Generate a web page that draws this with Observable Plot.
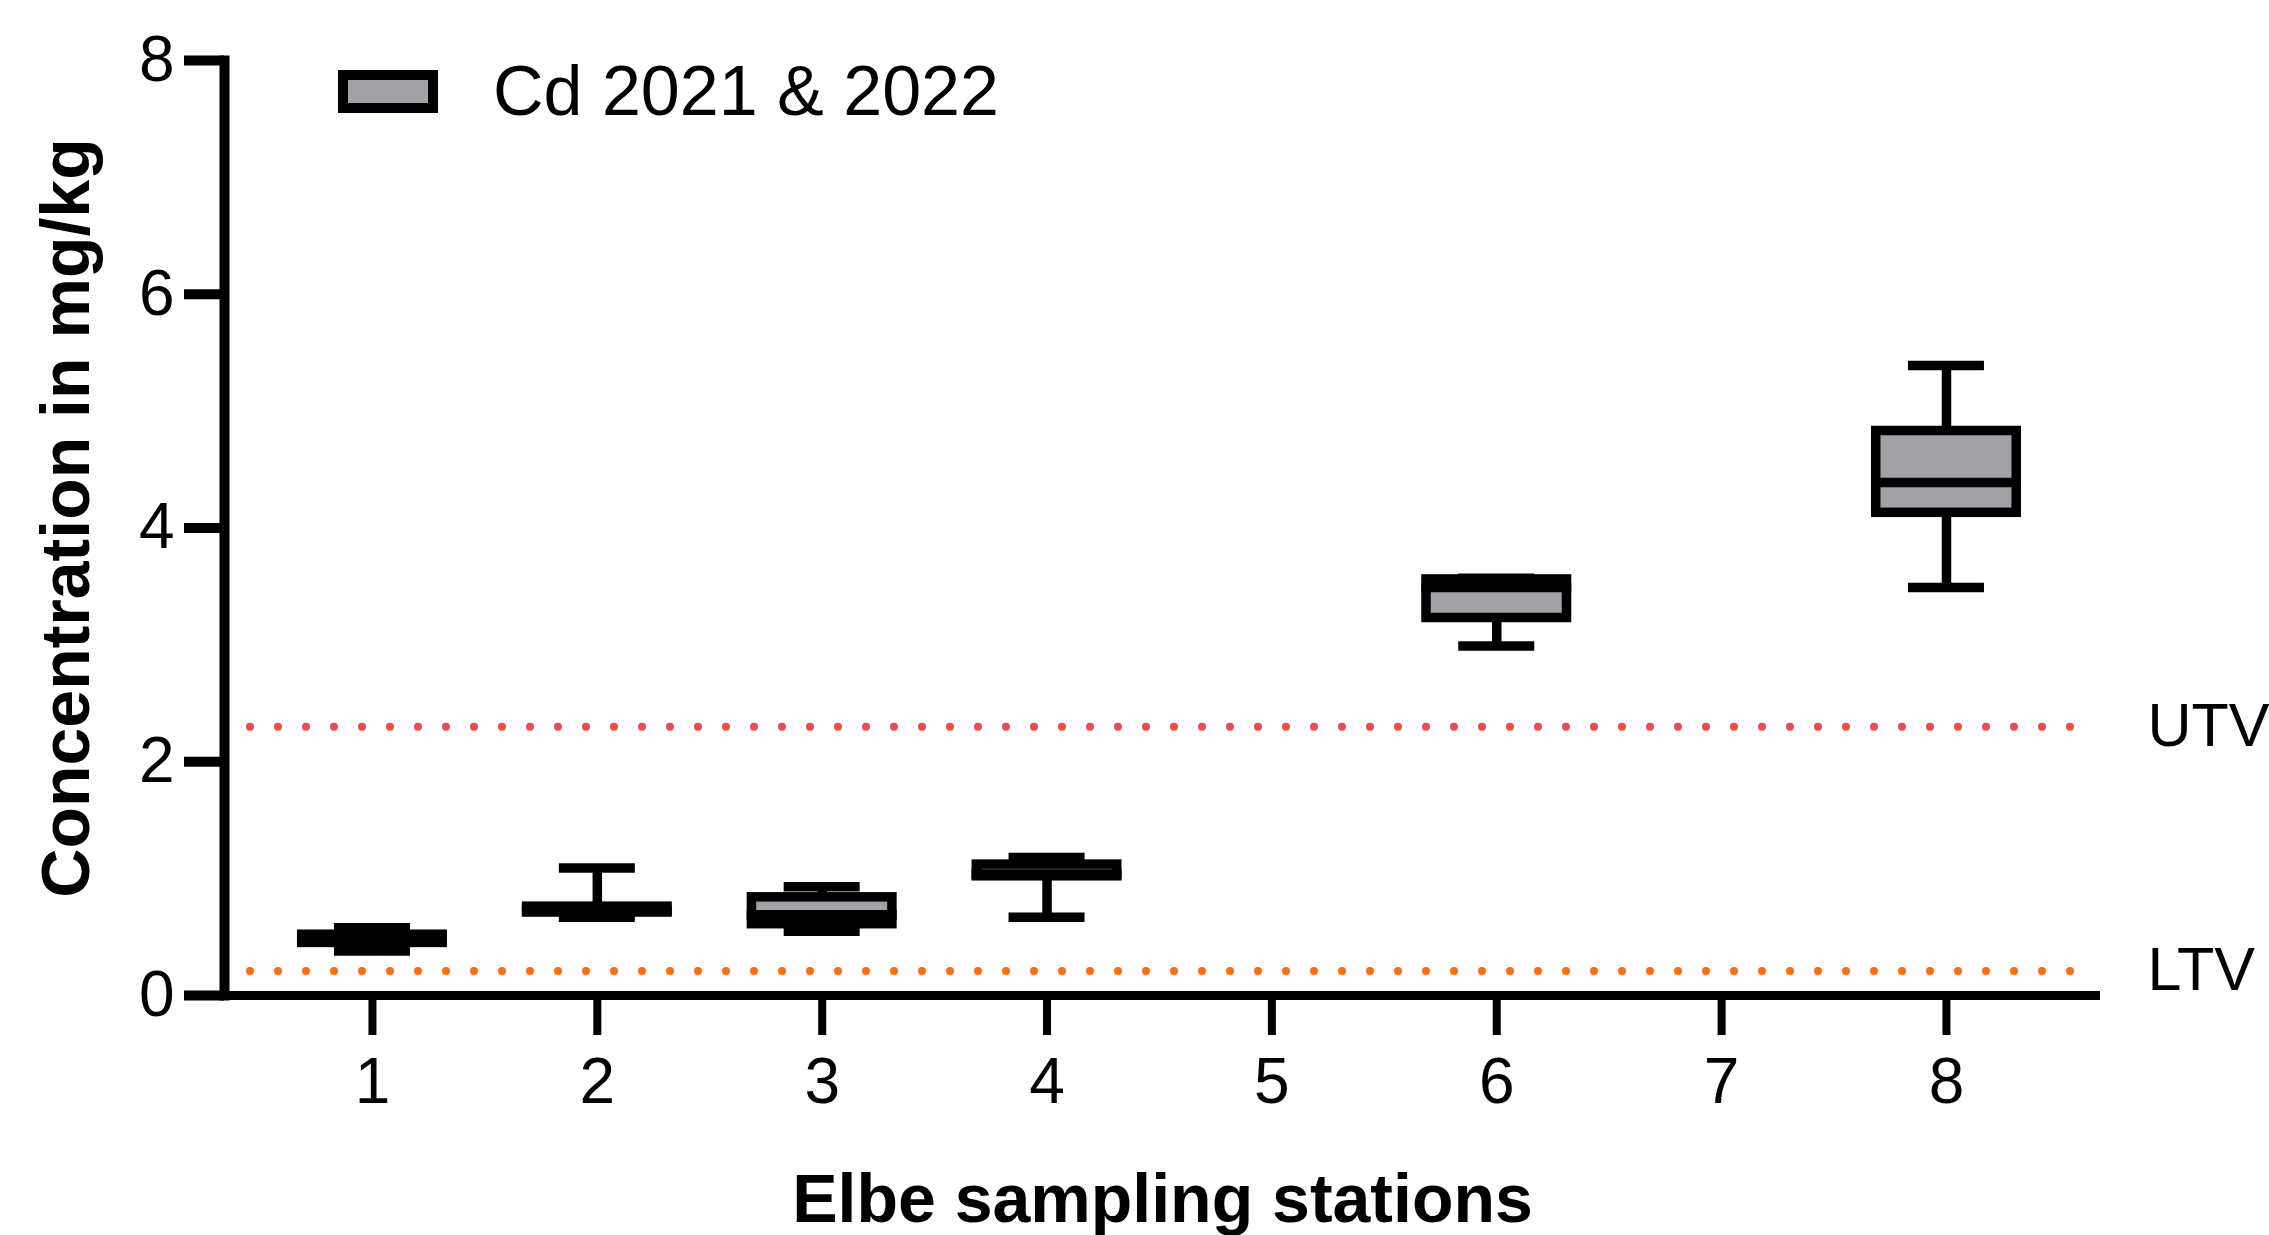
<!DOCTYPE html>
<html>
<head>
<meta charset="utf-8">
<script src="https://cdn.jsdelivr.net/npm/d3@7"></script>
<script src="https://cdn.jsdelivr.net/npm/@observablehq/plot@0.6"></script>
<style>
  body { margin: 0; background: #fff; }
  #wrap { position: relative; width: 2269px; height: 1235px; overflow: hidden; }
  #legend { position: absolute; left: 338px; top: 52px; height: 79px; display: flex; align-items: center;
            font-family: "Liberation Sans", Arial, sans-serif; font-size: 70px; line-height: 79px; color: #000; }
  #legend .sw { width: 80px; height: 23px; border: 10px solid #000; background: #a2a1a6; box-sizing: content-box; }
  #legend .lab { margin-left: 55px; white-space: nowrap; }
</style>
</head>
<body>
<div id="wrap">
  <div id="chart"></div>
  <div id="legend"><span class="sw"></span><span class="lab">Cd 2021 &amp; 2022</span></div>
</div>
<script>
// ---- Data ----
const stations     = [1, 2, 3, 4, 6, 8];
const whiskerLow   = [0.38, 0.67, 0.55, 0.67, 2.99, 3.49];
const q1           = [0.45, 0.71, 0.61, 1.02, 3.23, 4.13];
const median       = [0.49, 0.73, 0.69, 1.04, 3.49, 4.39];
const q3           = [0.52, 0.76, 0.84, 1.12, 3.56, 4.83];
const whiskerHigh  = [0.58, 1.09, 0.93, 1.18, 3.57, 5.39];

const xTicks = [1, 2, 3, 4, 5, 6, 7, 8];
const yTicks = [0, 2, 4, 6, 8];

const thresholdLabels = ["UTV", "LTV"];
const thresholdValues = [2.3, 0.21];
const thresholdColors = ["#f04a4a", "#ff6a0a"];

const xLabel = "Elbe sampling stations";
const yLabel = "Concentration in mg/kg";

// ---- Build tables ----
const boxes = stations.map((s, i) => ({
  station: s, low: whiskerLow[i], q1: q1[i], median: median[i], q3: q3[i], high: whiskerHigh[i]
}));
const thresholds = thresholdLabels.map((l, i) => ({ label: l, value: thresholdValues[i], color: thresholdColors[i] }));

const boxHalf = 0.3124;   // half box width in station units
const medHalf = 0.3335;   // median line spans outer box edge
const capHalf = 0.169;    // whisker cap half width
const sw = 9.5;

const chart = Plot.plot({
  width: 2269,
  height: 1235,
  marginLeft: 224,
  marginRight: 169,
  marginTop: 60,
  marginBottom: 240,
  x: { type: "linear", domain: [0.342, 8.685] },
  y: { domain: [0, 8] },
  style: { fontFamily: "'Liberation Sans', Arial, sans-serif", color: "#000", background: "#fff" },
  marks: [
    Plot.ruleY(thresholds, { y: "value", stroke: "color", strokeWidth: 8, strokeDasharray: "0 28",
                             strokeLinecap: "round", insetLeft: 26, insetRight: 20 }),
    Plot.text(thresholds, { y: "value", text: "label", frameAnchor: "right", dx: 47,
                            textAnchor: "start", lineAnchor: "middle", fontSize: 61, fill: "#000" }),
    Plot.ruleX(boxes, { x: "station", y1: "low", y2: "q1", stroke: "#000", strokeWidth: sw }),
    Plot.ruleX(boxes, { x: "station", y1: "q3", y2: "high", stroke: "#000", strokeWidth: sw }),
    Plot.ruleY(boxes, { y: "low", x1: d => d.station - capHalf, x2: d => d.station + capHalf,
                        stroke: "#000", strokeWidth: sw }),
    Plot.ruleY(boxes, { y: "high", x1: d => d.station - capHalf, x2: d => d.station + capHalf,
                        stroke: "#000", strokeWidth: sw }),
    Plot.rect(boxes, { x1: d => d.station - boxHalf, x2: d => d.station + boxHalf, y1: "q1", y2: "q3",
                       fill: "#a2a1a6", stroke: "#000", strokeWidth: sw }),
    Plot.ruleY(boxes, { y: "median", x1: d => d.station - medHalf, x2: d => d.station + medHalf,
                        stroke: "#000", strokeWidth: sw }),
    Plot.axisY({ ticks: yTicks, tickSize: 40, tickPadding: 10, strokeWidth: 10, fontSize: 64,
                 label: null, tickFormat: d => d }),
    Plot.axisX({ ticks: xTicks, tickSize: 40, tickPadding: 22, strokeWidth: 8, fontSize: 64,
                 label: null, tickFormat: d => d }),
    Plot.frame({ anchor: "left", stroke: "#000", strokeWidth: 10 }),
    Plot.ruleY([0], { stroke: "#000", strokeWidth: 9, insetLeft: -40 }),
    Plot.text([xLabel], { text: d => d, frameAnchor: "bottom", textAnchor: "middle", lineAnchor: "middle",
                          dy: 205, fontSize: 68, fontWeight: "bold" }),
    Plot.text([yLabel], { text: d => d, frameAnchor: "left", textAnchor: "middle", lineAnchor: "middle",
                          rotate: -90, dx: -157, dy: -10, fontSize: 68, fontWeight: "bold" })
  ]
});
document.getElementById("chart").appendChild(chart);
</script>
</body>
</html>
